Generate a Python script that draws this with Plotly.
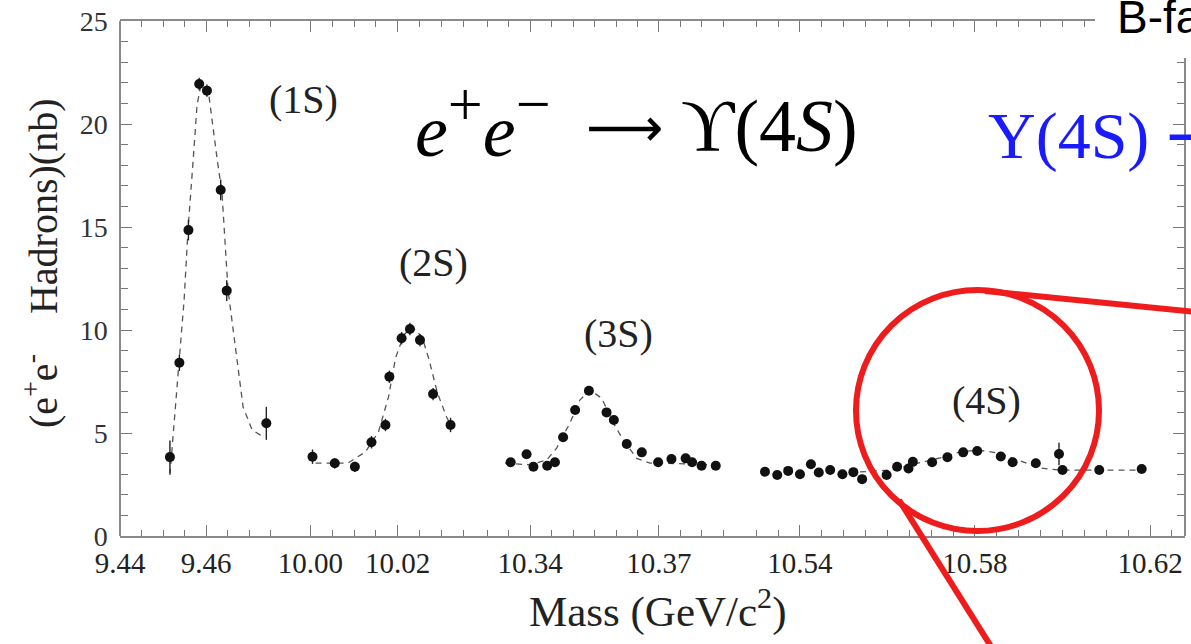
import plotly.graph_objects as go

# ---------------- data ----------------
# Upsilon(1S)
m1 = [9.4516, 9.4538, 9.4559, 9.4584, 9.4602, 9.4634, 9.4648, 9.4740]
s1 = [3.83, 8.41, 14.85, 21.94, 21.62, 16.80, 11.91, 5.47]
e1 = [0.8, 0.4, 0.5, 0.3, 0.3, 0.5, 0.5, 0.8]
fit1_m = [9.4516, 9.4528, 9.4537, 9.4549, 9.4558, 9.4570, 9.4579, 9.4588, 9.4598,
          9.4607, 9.4616, 9.4626, 9.4637, 9.4651, 9.4672, 9.4686, 9.4707, 9.4726, 9.4737]
fit1_s = [2.96, 5.87, 8.40, 11.46, 14.85, 18.25, 20.92, 21.89, 21.84,
          21.31, 19.81, 18.25, 16.65, 11.94, 8.54, 6.26, 5.15, 4.90, 4.81]

# Upsilon(2S)
m2 = [10.0005, 10.0056, 10.0102, 10.0140, 10.0172, 10.0181, 10.0209, 10.0228, 10.0251, 10.0281, 10.0321]
s2 = [3.85, 3.53, 3.36, 4.55, 5.39, 7.73, 9.60, 10.05, 9.51, 6.89, 5.39]
e2 = [0.35, 0.25, 0.25, 0.3, 0.3, 0.3, 0.3, 0.3, 0.3, 0.3, 0.35]
fit2_m = [10.0012, 10.0086, 10.0126, 10.0156, 10.0179, 10.0195, 10.0214, 10.0233,
          10.0256, 10.0272, 10.0291, 10.0312, 10.0323]
fit2_s = [3.54, 3.54, 4.08, 5.05, 6.75, 8.64, 9.76, 10.15, 9.66, 8.54, 6.94, 5.78, 5.29]

# Upsilon(3S)
m3 = [10.3355, 10.3392, 10.3408, 10.3440, 10.3458, 10.3477, 10.3505, 10.3537, 10.3578,
      10.3595, 10.3625, 10.3660, 10.3698, 10.3729, 10.3762, 10.3777, 10.3799, 10.3832]
s3 = [3.58, 3.97, 3.36, 3.41, 3.58, 4.79, 6.12, 7.05, 6.00,
      5.63, 4.47, 4.06, 3.58, 3.74, 3.77, 3.58, 3.41, 3.41]
e3 = [0.2] * 18
fit3_m = [10.3342, 10.3400, 10.3439, 10.3462, 10.3493, 10.3516, 10.3540, 10.3567,
          10.3594, 10.3617, 10.3648, 10.3679, 10.3772, 10.3837]
fit3_s = [3.54, 3.45, 3.69, 4.27, 5.49, 6.60, 7.09, 6.68, 5.47, 4.66, 3.77, 3.54, 3.50, 3.45]

# Upsilon(4S)
m4 = [10.5320, 10.5348, 10.5373, 10.5400, 10.5425, 10.5443, 10.5469, 10.5497, 10.5522,
      10.5542, 10.5598, 10.5622, 10.5648, 10.5658, 10.5702, 10.5737, 10.5773, 10.5805,
      10.5859, 10.5886, 10.5939, 10.5992, 10.6000, 10.6084, 10.6181]
s4 = [3.12, 2.96, 3.16, 3.00, 3.48, 3.08, 3.20, 3.00, 3.10,
      2.76, 2.96, 3.36, 3.28, 3.60, 3.58, 3.82, 4.06, 4.13,
      3.86, 3.58, 3.53, 3.98, 3.20, 3.20, 3.25]
e4 = [0.15] * 21 + [0.55, 0.2, 0.15, 0.15]
fit4_m = [10.5537, 10.5606, 10.5663, 10.5720, 10.5766, 10.5807, 10.5853, 10.5903,
          10.5949, 10.5994, 10.6086, 10.6189]
fit4_s = [3.11, 3.20, 3.50, 3.79, 4.08, 4.17, 4.03, 3.64, 3.30, 3.20, 3.20, 3.20]

peak_labels = ["(1S)", "(2S)", "(3S)", "(4S)"]

# ---------------- layout helpers ----------------
W, H = 1191, 644
L, R, T, B = 120, 6, 21, 108
PW, PH = W - L - R, H - T - B


def fx(p):
    return (p - L) / PW


def fy(p):
    return (H - B - p) / PH


segments = [
    dict(rng=[9.4400, 9.4795], dom=[fx(120), fx(290)], tick0=9.44, dtick=0.02),
    dict(rng=[9.99535, 10.03884], dom=[fx(290), fx(480)], tick0=10.00, dtick=0.02),
    dict(rng=[10.32837, 10.38884], dom=[fx(480), fx(740)], tick0=10.34, dtick=0.03),
    dict(rng=[10.52629, 10.6280], dom=[fx(740), fx(1185)], tick0=10.54, dtick=0.04),
]

series = [(m1, s1, e1, fit1_m, fit1_s), (m2, s2, e2, fit2_m, fit2_s),
          (m3, s3, e3, fit3_m, fit3_s), (m4, s4, e4, fit4_m, fit4_s)]

fig = go.Figure()
for i, (m, s, e, fm, fs) in enumerate(series):
    xa = "x" if i == 0 else f"x{i+1}"
    fig.add_trace(go.Scatter(x=fm, y=fs, xaxis=xa, yaxis="y", mode="lines",
                             line=dict(color="#555555", width=1.3, dash="6px,5px"),
                             hoverinfo="skip", showlegend=False))
    fig.add_trace(go.Scatter(x=m, y=s, xaxis=xa, yaxis="y", mode="markers",
                             marker=dict(size=10, color="#111111"),
                             error_y=dict(type="data", array=e, width=0, thickness=1.4, color="#222222"),
                             showlegend=False))

axis_common = dict(showline=True, linecolor="#8a8a8a", linewidth=1.5, mirror="ticks",
                   ticks="inside", ticklen=11, tickwidth=1.2, tickcolor="#777777",
                   showgrid=False, zeroline=False, tickformat=".2f",
                   tickfont=dict(family="Liberation Serif, DejaVu Serif, serif", size=29, color="#222222"))

layout = dict(width=W, height=H, margin=dict(l=L, r=R, t=T, b=B),
              paper_bgcolor="white", plot_bgcolor="white", showlegend=False)

for i, sg in enumerate(segments):
    name = "xaxis" if i == 0 else f"xaxis{i+1}"
    layout[name] = dict(axis_common, range=sg["rng"], domain=sg["dom"], anchor="y",
                        tickmode="linear", tick0=sg["tick0"], dtick=sg["dtick"],
                        minor=dict(ticks="inside", ticklen=6, tickcolor="#777777",
                                   tick0=sg["tick0"], dtick=0.005))

yfont = dict(family="Liberation Serif, DejaVu Serif, serif", size=28, color="#333333")
layout["yaxis"] = dict(range=[0, 25], domain=[0, 1], anchor="free", position=0,
                       showline=True, linecolor="#8a8a8a", linewidth=1.5,
                       ticks="inside", ticklen=11, tickcolor="#777777", tickmode="linear",
                       tick0=0, dtick=5, showgrid=False, zeroline=False,
                       ticklabelstandoff=6, tickfont=yfont,
                       minor=dict(ticks="inside", ticklen=7, tickcolor="#777777", dtick=1))
layout["yaxis2"] = dict(range=[0, 25], domain=[0, 1], overlaying="y", side="right",
                        anchor="free", position=1, showline=True, linecolor="#8a8a8a",
                        linewidth=1.5, ticks="inside", ticklen=11, tickcolor="#777777",
                        tickmode="linear", tick0=0, dtick=5, showticklabels=False,
                        showgrid=False, zeroline=False,
                        minor=dict(ticks="inside", ticklen=7, tickcolor="#777777", dtick=1))
fig.update_layout(**layout)
# invisible trace so that the right-hand frame axis renders
fig.add_trace(go.Scatter(x=[None], y=[None], xaxis="x4", yaxis="y2", showlegend=False))

serif = "Liberation Serif, DejaVu Serif, serif"
ann = []


def add_text(text, px, py, size, color="#222222", family=serif, xanchor="center", angle=0):
    ann.append(dict(text=text, x=fx(px), y=fy(py), xref="paper", yref="paper",
                    xanchor=xanchor, yanchor="middle", textangle=angle, showarrow=False,
                    font=dict(family=family, size=size, color=color)))


for lab, (px, py) in zip(peak_labels, [(303, 100), (433, 262), (618, 333), (986, 400)]):
    add_text(lab, px, py, 40)

add_text("Mass (GeV/c<sup>2</sup>)", 657, 608, 43)
add_text("(e<sup>+</sup>e<sup>-</sup>\u00a0\u00a0\u00a0\u00a0Hadrons)(nb)", 40, 264, 40, angle=-90)
# e+e- -> Upsilon(4S), in three pieces to mimic the wide TeX spacing
add_text("<i>e</i><sup><span style='font-size:62px'>+</span></sup>"
         "<i>e</i><sup><span style='font-size:62px'>\u2212</span></sup>",
         413, 121, 74, color="black", xanchor="left")
add_text("\u27f6", 624, 128, 54, color="black", family="DejaVu Sans, Liberation Sans, sans-serif")
add_text("\u03d2(4<i>S</i>)", 860, 126, 74, color="black", xanchor="right")
add_text("Y(4S) <span style='font-family:DejaVu Sans'>\u27f6</span> B B\u0305",
         986, 135, 66, color="#1a1aff", xanchor="left")
add_text("B-factory", 1115, 17, 46, color="black",
         family="Liberation Sans, Arial, sans-serif", xanchor="left")

shapes = [
    dict(type="rect", xref="paper", yref="paper", x0=fx(1095), x1=fx(1200), y0=fy(58), y1=fy(-5),
         fillcolor="white", line=dict(width=0), layer="above"),
    dict(type="circle", xref="paper", yref="paper", x0=fx(856), x1=fx(1099), y0=fy(531), y1=fy(290),
         line=dict(color="#ee1c1c", width=6), layer="above"),
    dict(type="line", xref="paper", yref="paper", x0=fx(985), y0=fy(291), x1=fx(1195), y1=fy(312),
         line=dict(color="#ee1c1c", width=6), layer="above"),
    dict(type="line", xref="paper", yref="paper", x0=fx(899), y0=fy(500), x1=fx(992), y1=fy(648),
         line=dict(color="#ee1c1c", width=6), layer="above"),
]
fig.update_layout(annotations=ann, shapes=shapes)

fig.write_html("out.html")
